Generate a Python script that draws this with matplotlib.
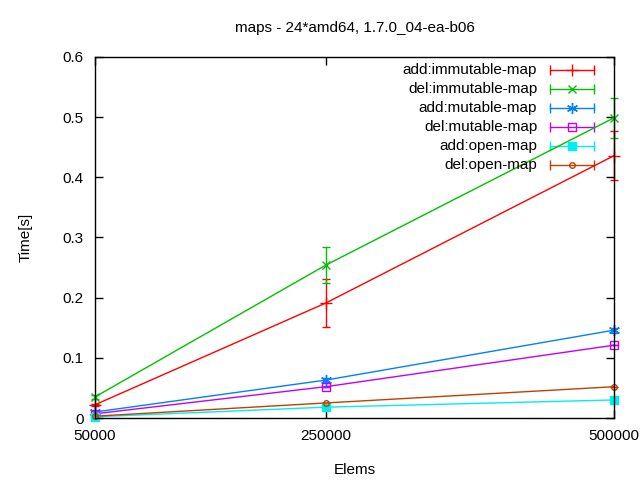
import numpy as np
import matplotlib.pyplot as plt

# data
elems = [50000, 250000, 500000]
labels = ['add:immutable-map', 'del:immutable-map', 'add:mutable-map',
          'del:mutable-map', 'add:open-map', 'del:open-map']
add_immutable = [0.022, 0.191, 0.436]
del_immutable = [0.035, 0.254, 0.499]
add_mutable = [0.010, 0.063, 0.146]
del_mutable = [0.007, 0.052, 0.121]
add_open = [0.002, 0.018, 0.030]
del_open = [0.003, 0.025, 0.052]
err_add_immutable = [0.002, 0.040, 0.041]
err_del_immutable = [0.004, 0.030, 0.033]
err_add_mutable = [0.001, 0.003, 0.004]
err_del_mutable = [0.0, 0.0, 0.0]
err_add_open = [0.0, 0.002, 0.005]
err_del_open = [0.0, 0.0, 0.0]

series = [add_immutable, del_immutable, add_mutable, del_mutable, add_open, del_open]
errors = [err_add_immutable, err_del_immutable, err_add_mutable,
          err_del_mutable, err_add_open, err_del_open]
colors = ['#ff0000', '#00c000', '#0080ff', '#c000ff', '#00eeee', '#c04000']
markers = ['+', 'x', (6, 2, 0), 's', 's', 'o']
msizes = [8, 6, 8, 6, 6, 4]
mfaces = ['none', 'none', 'none', 'none', '#00eeee', 'none']

plt.rcParams['font.family'] = ['Liberation Sans', 'DejaVu Sans']

fig = plt.figure(figsize=(6.4, 4.8), dpi=100)
ax = fig.add_axes([95 / 640, 62 / 480, 519 / 640, 361 / 480])

for i in range(len(series)):
    eb = ax.errorbar(elems, series[i], yerr=errors[i], color=colors[i], marker=markers[i],
                     markersize=msizes[i], markerfacecolor=mfaces[i], markeredgewidth=1,
                     linewidth=1, elinewidth=1, capsize=3, capthick=1)
    for art in eb.get_children():
        art.set_clip_on(False)

# gnuplot-style key: right aligned text, line sample with caps
for i in range(len(labels)):
    yk = 0.964 - i * 0.0526
    ax.text(0.852, yk, labels[i], transform=ax.transAxes, ha='right', va='center', fontsize=11)
    ax.plot([0.877, 0.961], [yk, yk], transform=ax.transAxes, color=colors[i], lw=1,
            clip_on=False)
    ax.plot([0.877, 0.961], [yk, yk], transform=ax.transAxes, color=colors[i], lw=0,
            marker='|', markersize=7, clip_on=False)
    ax.plot([0.919], [yk], transform=ax.transAxes, color=colors[i], marker=markers[i],
            markersize=msizes[i], markerfacecolor=mfaces[i], lw=0, clip_on=False)

ax.set_xlim(50000, 500000)
ax.set_ylim(0, 0.6)
ax.set_xticks(elems)
ax.set_xticklabels([str(e) for e in elems])
ax.set_yticks([0, 0.1, 0.2, 0.3, 0.4, 0.5, 0.6])
ax.set_yticklabels(['0', '0.1', '0.2', '0.3', '0.4', '0.5', '0.6'])
ax.tick_params(direction='in', top=True, right=True, length=6, width=1, labelsize=11, pad=8)
for s in ax.spines.values():
    s.set_linewidth(1)

ax.set_title('maps - 24*amd64, 1.7.0_04-ea-b06', fontsize=11, pad=18)
ax.set_xlabel('Elems', fontsize=11, labelpad=14)
ax.set_ylabel('Time[s]', fontsize=11, labelpad=22)

fig.savefig('out.png', dpi=100)
